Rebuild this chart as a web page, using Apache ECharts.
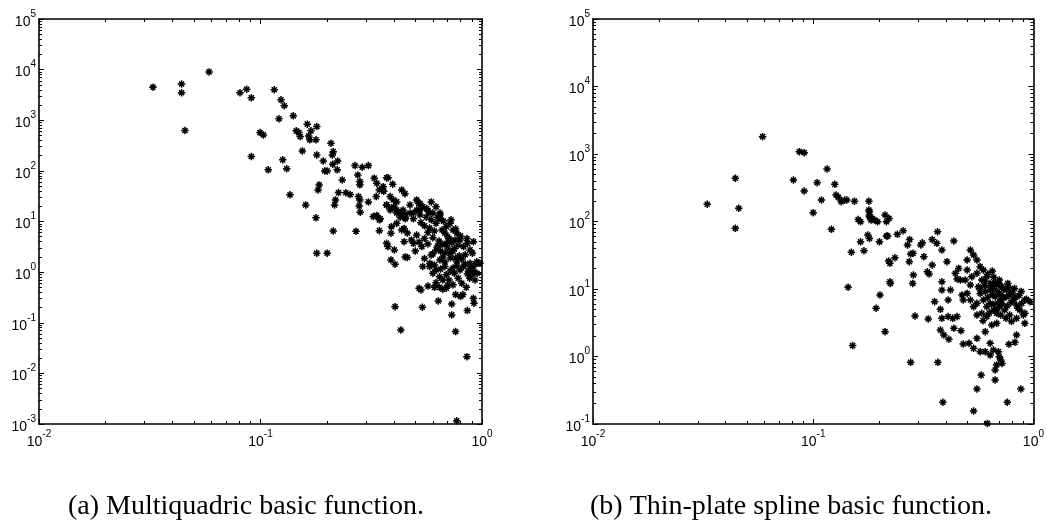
<!DOCTYPE html>
<html>
<head>
<meta charset="utf-8">
<script src="https://cdn.jsdelivr.net/npm/echarts@6/dist/echarts.min.js"></script>
<style>
html,body{margin:0;padding:0;background:#fff;}
#chart{width:1047px;height:525px;}
</style>
</head>
<body>
<div id="chart"></div>
<script>
// ---------- data ----------
const captionA = '(a) Multiquadric basic function.';
const captionB = '(b) Thin-plate spline basic function.';

const xRange = [0.01, 1];
const yRangeA = [0.001, 100000];
const yRangeB = [0.1, 100000];
const minorFactors = [2, 3, 4, 5, 6, 7, 8, 9];

// (a) Multiquadric: [distance, error]
const pointsA = [
[0.0327,4500],[0.044,5200],[0.044,3500],[0.0586,9000],[0.0456,627],[0.0808,3500],[0.0866,4100],[0.0909,2770],[0.0909,192],
[0.1154,4000],[0.1238,2530],[0.1281,1930],[0.1212,1066],[0.0995,571],[0.103,514],[0.1084,105],[0.126,165],[0.1313,110],[0.1359,33.6],[0.16,21.3],
[0.1406,1222],[0.145,617],[0.149,571],[0.151,476],[0.1626,838],[0.169,617],[0.165,490],[0.167,410],[0.1795,751],[0.178,410],
[0.1545,248],[0.1795,207],[0.208,352],[0.213,240],[0.211,207],[0.212,135],[0.223,157],[0.222,105],[0.192,157],[0.195,100],[0.2,100],
[0.184,52.8],[0.182,42],[0.234,66.4],[0.225,37.2],[0.243,37],[0.254,34],[0.218,26.7],[0.216,21.3],[0.178,11.8],
[0.267,127],[0.288,118],[0.307,127],[0.275,83],[0.281,61.6],[0.281,53],[0.277,31],[0.281,26.7],[0.282,15.2],[0.279,20.3],[0.307,24.4],
[0.326,71.8],[0.335,57],[0.371,73],[0.377,73],[0.395,54.6],[0.358,48.7],[0.344,42],[0.36,39.5],[0.333,31],[0.434,42],[0.449,35.5],
[0.385,31],[0.398,26.7],[0.412,24.4],[0.371,21.3],[0.39,18],[0.412,16.9],[0.427,14.7],[0.473,21.3],[0.507,26.7],[0.525,22.7],
[0.563,18],[0.583,14.7],[0.646,14.7],[0.725,10.8],[0.45,11.3],[0.347,11.3],
[0.213,6.5],[0.1795,2.37],[0.2,2.37],[0.27,6.4],[0.323,12.5],[0.335,13.2],[0.344,10.8],[0.344,6.6],[0.388,5.87],[0.371,3.72],[0.376,3.19],
[0.402,2.75],[0.388,1.74],[0.405,1.43],[0.405,0.208],[0.43,0.072],[0.538,0.202],[0.635,0.27],[0.73,0.235],[0.73,0.143],[0.76,0.067],
[0.859,0.174],[0.855,0.0214],[0.769,0.00116],[0.914,0.305],[0.92,0.243],[0.52,0.48],[0.53,0.445],[0.57,0.53],[0.61,0.5],[0.643,0.5],
[0.665,0.46],[0.69,0.48],[0.74,0.56],[0.76,0.36],[0.8,0.33],[0.82,0.36],[0.54,1.29],[0.58,1.29],[0.6,0.95],[0.62,1.1],[0.643,0.81],
[0.665,0.7],[0.69,0.89],[0.71,0.7],[0.78,0.76],[0.81,0.6],[0.88,0.76],[0.93,0.7],[0.96,1.5],[0.883,1.5],[0.915,1.29],[0.979,1.5],
[0.45,12.2],[0.473,14.7],[0.49,11.3],[0.507,16.9],[0.517,23],[0.525,13.5],[0.54,19.5],[0.56,12.2],[0.572,15.8],[0.59,10.8],[0.6,14.7],
[0.62,9.2],[0.63,12.2],[0.646,13.5],[0.66,6.8],[0.68,5.9],[0.69,7.9],[0.70,5.0],[0.717,9.2],[0.74,6.8],[0.755,4.33],[0.77,5.9],
[0.796,4.33],[0.826,3.2],[0.855,4.6],[0.883,2.75],[0.915,4.0],[0.947,1.6],[0.905,2.37],[0.445,7.3],[0.46,5.9],[0.48,4.33],[0.49,3.7],
[0.45,2.0],[0.46,1.95],[0.445,4.0],[0.507,5.4],[0.535,3.2],[0.55,1.86],[0.582,1.5],[0.59,2.19],[0.61,1.39],[0.62,2.75],[0.646,1.74],
[0.665,2.0],[0.68,1.29],[0.69,3.7],[0.717,2.37],[0.74,1.2],[0.77,1.6],[0.796,1.1],[0.826,1.29],
[0.371,21.3],[0.385,16.9],[0.4,19.5],[0.412,14.7],[0.427,12.2],[0.44,16.9],[0.412,9.2],[0.39,7.9],[0.434,6.8],
[0.525,16.9],[0.62,19.5],[0.646,11.3],[0.49,14.7],[0.59,24.4],[0.45,14],
[0.55,8.2],[0.57,6.1],[0.6,4.8],[0.63,3.3],[0.65,2.6],[0.7,3.0],[0.72,1.9],[0.75,2.9],[0.79,2.1],[0.84,2.2],[0.87,1.05],[0.9,0.9],
[0.62,0.62],[0.7,0.55],[0.85,0.5],[0.95,0.95],[0.53,9.5],[0.58,7.4],[0.67,10.2],[0.76,7.2],[0.8,5.2],[0.86,3.7],[0.5,2.6],[0.52,3.9],
[0.64,4.1],[0.66,3.5],[0.68,2.4],[0.71,4.6],[0.73,3.8],[0.74,2.6],[0.76,1.9],[0.78,3.4],[0.72,1.05],[0.75,0.95],[0.77,1.35],
[0.81,1.8],[0.84,1.45],[0.86,0.92],[0.89,1.2],[0.92,1.0],[0.68,1.6],[0.65,1.15],[0.6,2.3],[0.57,3.6],[0.55,4.6],[0.61,6.5]
];

// (b) Thin-plate spline: [distance, error]
const pointsB = [
[0.0589,1805],[0.0443,437],[0.033,180],[0.0459,157],[0.0443,79.3],[0.0865,1082],[0.091,1047],[0.0813,412],[0.1042,376],[0.1156,600],
[0.1253,355],[0.091,283],[0.109,208],[0.1,135],[0.127,247],[0.13,228],[0.134,196],[0.139,208],[0.142,208],[0.154,200],[0.179,200],
[0.179,148],[0.18,125],[0.185,111],[0.16,107],[0.212,125],[0.221,111],[0.121,76.6],[0.164,99],[0.18,140],[0.18,118],[0.183,105],
[0.19,105],[0.196,99],[0.215,99],[0.164,50],[0.18,56],[0.177,63],[0.2,50],[0.149,35],[0.17,36.9],[0.215,61],[0.218,61],[0.241,64.6],
[0.256,73],[0.22,26],[0.223,24],[0.235,29],[0.223,12.8],[0.224,12.1],[0.144,10.6],[0.201,8.15],[0.193,5.18],[0.212,2.33],[0.151,1.45],
[0.277,0.82],[0.368,0.82],[0.388,0.21],[0.535,0.156],[0.618,0.102],[0.554,0.33],[0.579,0.53],[0.67,0.45],[0.761,0.21],[0.877,0.33],
[0.67,0.63],[0.68,0.75],[0.70,0.99],[0.71,0.89],[0.72,0.79],[0.658,1.25],[0.693,1.18],[0.636,1.05],[0.604,1.18],[0.573,1.18],
[0.535,1.32],[0.51,1.57],[0.48,1.53],[0.554,1.86],[0.604,2.33],[0.636,1.57],[0.774,1.52],[0.824,1.62],[0.838,2.08],
[0.378,2.47],[0.392,2.08],[0.413,1.8],[0.435,2.62],[0.469,2.41],[0.378,5.0],[0.356,6.5],[0.384,3.68],[0.41,3.9],[0.45,3.9],
[0.29,3.98],[0.333,3.6],[0.285,16.1],[0.283,12.1],[0.273,25.4],[0.277,33],[0.284,33.8],[0.268,44.9],[0.274,54],[0.308,44.9],
[0.313,48.5],[0.318,30.1],[0.347,22.7],[0.33,18],[0.336,16.7],[0.347,54],[0.367,70.6],[0.364,47.5],[0.384,37.8],[0.405,25.4],
[0.435,51.4],[0.384,12.8],[0.384,9.66],[0.42,9.66],[0.41,6.87],[0.442,17.1],[0.45,14.1],[0.466,13.6],[0.458,20.2],[0.49,13.6],[0.5,19.1],
[0.5,26.9],[0.517,37.8],[0.535,31.9],[0.554,26.9],[0.573,21.4],[0.593,19.1],[0.614,15.2],[0.636,12.1],[0.658,10.2],[0.681,11.5],
[0.70,13.6],[0.72,10.8],[0.755,9.66],[0.78,8.15],[0.81,6.87],[0.838,5.8],[0.868,4.89],[0.9,4.12],[0.914,3.1],[0.966,6.5],[0.93,7.03],
[0.885,6.14],[0.554,17.1],[0.583,13.6],[0.604,9.1],[0.573,8.6],[0.593,6.87],[0.636,6.14],[0.658,4.89],[0.681,4.37],[0.70,5.47],
[0.74,4.89],[0.78,4.12],[0.755,7.7],[0.71,6.87],[0.681,3.1],[0.647,2.93],[0.614,5.47],[0.554,6.14],[0.517,6.87],[0.535,5.47],
[0.50,8.6],[0.474,8.15],[0.636,9.66],[0.67,7.7],[0.563,10.8],[0.517,11.5],[0.765,12.1],[0.82,10.2],[0.914,6.87],[0.838,3.68],
[0.795,3.3],[0.914,4.37],[0.525,15.2],[0.48,6.87],[0.43,3.68],[0.554,4.12],[0.583,4.37],[0.614,3.9],[0.71,4.12],
[0.6,11.2],[0.65,8.3],[0.69,9.1],[0.73,7.4],[0.76,5.6],[0.8,8.9],[0.86,8.0],[0.62,7.5],[0.7,11.8],[0.66,14.9],[0.75,3.7],[0.59,3.4],
[0.64,10.8],[0.67,12.5],[0.69,6.2],[0.72,6.0],[0.73,9.9],[0.77,10.6],[0.79,6.3],[0.83,7.6],[0.85,5.2],[0.88,9.2],[0.62,16.6],
[0.65,18.5],[0.6,13.1],[0.57,10.1],[0.66,5.9],[0.71,8.1],[0.68,4.9],[0.63,4.4]
];

// ---------- chart ----------
const chart = echarts.init(document.getElementById('chart'), null, {renderer: 'canvas'});
const FONT = '"Liberation Sans", Arial, Helvetica, sans-serif';
const rich = {
  b: {fontFamily: FONT, fontSize: 14, color: '#000', lineHeight: 20, verticalAlign: 'bottom'},
  s: {fontFamily: FONT, fontSize: 10, color: '#000', lineHeight: 11, verticalAlign: 'top'}
};
function powLabel(v) {
  const e = Math.round(Math.log10(v));
  return '{b|10}{s|' + e + '}';
}
function minorPositions(lo, hi) {
  const out = [];
  for (let n = lo; n < hi; n++) minorFactors.forEach(k => out.push(n + Math.log10(k)));
  return out;
}
const LINE = {color: '#000', width: 1.6};

function majorX(grid, pos, labels, range) {
  return {
    type: 'log', logBase: 10, gridIndex: grid, position: pos, min: range[0], max: range[1],
    axisLine: {show: true, onZero: false, lineStyle: LINE},
    axisTick: {show: true, inside: true, length: 5, lineStyle: {color: '#000', width: 1}},
    axisLabel: {show: labels, formatter: powLabel, rich: rich, margin: 5},
    splitLine: {show: false}, minorTick: {show: false}
  };
}
function minorAx(grid, pos, lo, hi) {
  return {
    type: 'value', gridIndex: grid, position: pos, min: lo, max: hi,
    axisLine: {show: false, onZero: false},
    axisTick: {show: true, inside: true, length: 3, customValues: minorPositions(lo, hi), lineStyle: {color: '#000', width: 1}},
    axisLabel: {show: false}, splitLine: {show: false}
  };
}
function majorY(grid, pos, labels, range) {
  return {
    type: 'log', logBase: 10, gridIndex: grid, position: pos, min: range[0], max: range[1],
    axisLine: {show: true, onZero: false, lineStyle: LINE},
    axisTick: {show: true, inside: true, length: 5, lineStyle: {color: '#000', width: 1}},
    axisLabel: {show: labels, formatter: powLabel, rich: rich, margin: 3, align: 'right'},
    splitLine: {show: false}, minorTick: {show: false}
  };
}
const lg = v => Math.round(Math.log10(v));

const STAR = 'path://M0,5L10,5M5,0L5,10M1.6,1.6L8.4,8.4M1.6,8.4L8.4,1.6';
function scatter(data, xi, yi) {
  return {
    type: 'scatter', xAxisIndex: xi, yAxisIndex: yi, data: data,
    symbol: STAR, symbolSize: 7.5, silent: true,
    itemStyle: {color: '#000', borderColor: '#000', borderWidth: 1.5, opacity: 1}
  };
}

const CAP_FONT = '28px "Liberation Serif", "DejaVu Serif", serif';
const option = {
  backgroundColor: '#fff',
  animation: false,
  grid: [
    {left: 39, top: 19, width: 443, height: 405, containLabel: false},
    {left: 593, top: 19, width: 444, height: 405, containLabel: false}
  ],
  xAxis: [
    majorX(0, 'bottom', true, xRange),
    minorAx(0, 'bottom', lg(xRange[0]), lg(xRange[1])),
    majorX(0, 'top', false, xRange),
    minorAx(0, 'top', lg(xRange[0]), lg(xRange[1])),
    majorX(1, 'bottom', true, xRange),
    minorAx(1, 'bottom', lg(xRange[0]), lg(xRange[1])),
    majorX(1, 'top', false, xRange),
    minorAx(1, 'top', lg(xRange[0]), lg(xRange[1]))
  ],
  yAxis: [
    majorY(0, 'left', true, yRangeA),
    minorAx(0, 'left', lg(yRangeA[0]), lg(yRangeA[1])),
    majorY(0, 'right', false, yRangeA),
    minorAx(0, 'right', lg(yRangeA[0]), lg(yRangeA[1])),
    majorY(1, 'left', true, yRangeB),
    minorAx(1, 'left', lg(yRangeB[0]), lg(yRangeB[1])),
    majorY(1, 'right', false, yRangeB),
    minorAx(1, 'right', lg(yRangeB[0]), lg(yRangeB[1]))
  ],
  series: [
    scatter(pointsA, 0, 0),
    scatter(pointsB, 4, 4)
  ],
  graphic: [
    {type: 'text', x: 246, y: 507, style: {text: captionA, fill: '#000', font: CAP_FONT, textAlign: 'center', textVerticalAlign: 'middle'}},
    {type: 'text', x: 791, y: 507, style: {text: captionB, fill: '#000', font: CAP_FONT, textAlign: 'center', textVerticalAlign: 'middle'}}
  ]
};
chart.setOption(option);
</script>
</body>
</html>
